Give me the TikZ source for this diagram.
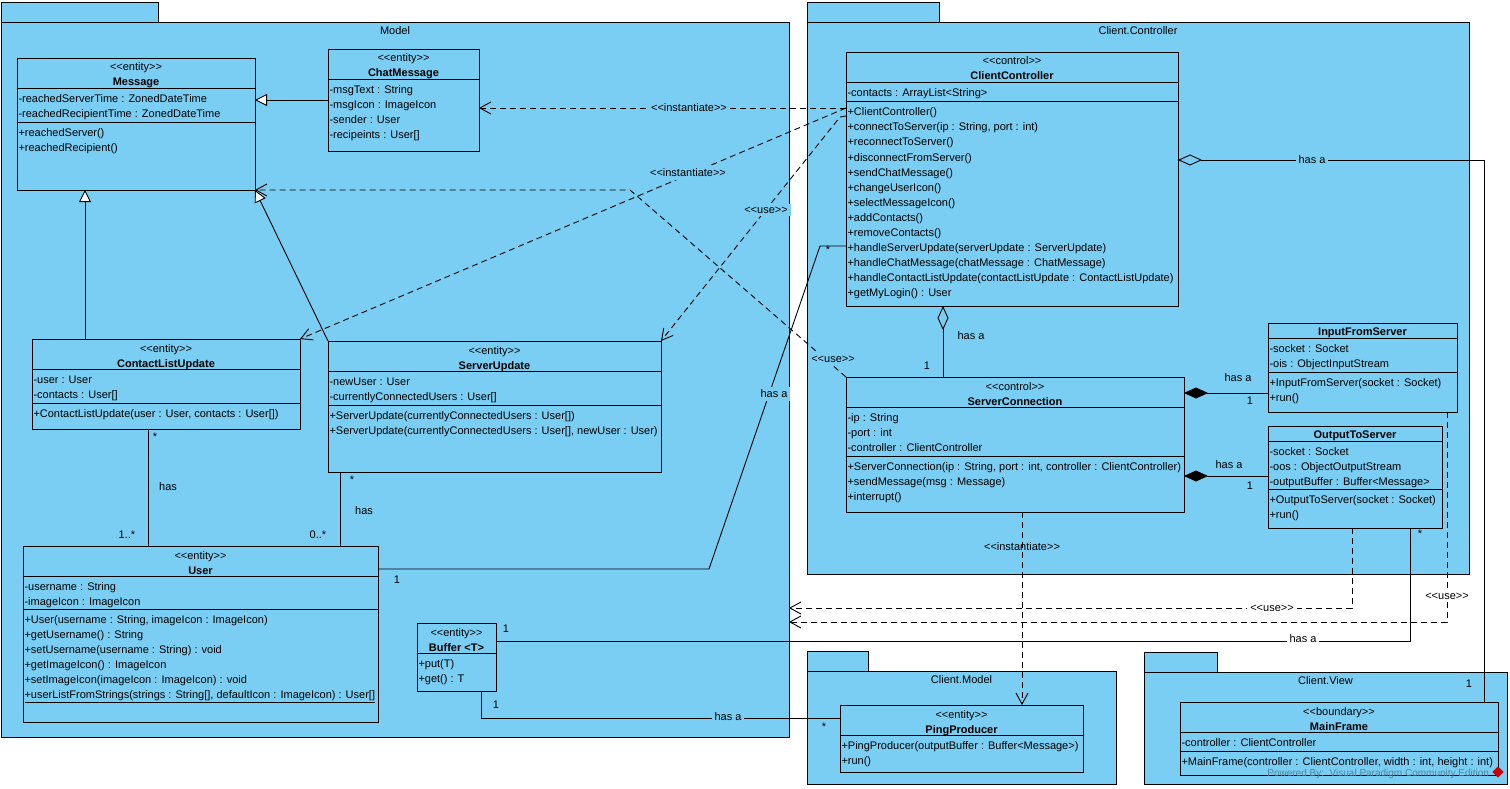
\documentclass[tikz,border=0pt]{standalone}
\usepackage{fontspec}
\newfontfamily\umlface{Liberation Sans}
\usetikzlibrary{arrows.meta,calc}
\definecolor{umlblue}{RGB}{122,206,243}
\newcommand\umlfont{\umlface\fontsize{11}{15}\selectfont}
% class box: name, x, y (top), width, height
\newcommand\umlbox[5]{\node[box, minimum width=#4pt, minimum height=#5pt, anchor=north west] (#1) at (#2,#3) {};}
% stereotype + bold class name
\newcommand\umlhead[3]{%
  \node[hdr] (#1-st) at ($(#1.north)+(0,13)$) {#2};
  \node[hdr, font=\umlfont\bfseries] (#1-nm) at ($(#1.north)+(0,28)$) {#3};}
% bold class name only
\newcommand\umltitle[2]{\node[hdr, font=\umlfont\bfseries] (#1-nm) at ($(#1.north)+(0,12)$) {#2};}
% compartment divider at a given offset below the top
\newcommand\umlsep[2]{\draw[ln] ($(#1.north west)+(0,#2)$) -- ($(#1.north east)+(0,#2)$);}
% member rows: box, name prefix, first baseline offset, list
\newcommand\umlrows[4]{\foreach \rowtext [count=\rowno from 0] in {#4}{%
  \node[mem] (#2\rowno) at ($(#1.north west)+(1.5,{#3+15*\rowno})$) {\rowtext};}}
\begin{document}
\begin{tikzpicture}[x=1pt,y=-1pt,
  every node/.style={inner sep=0pt, outer sep=0pt, font=\umlfont},
  box/.style={draw, fill=umlblue, line width=0.9pt},
  ln/.style={line width=0.9pt},
  dep/.style={ln, dash pattern=on 6pt off 4pt, -{Straight Barb[length=11pt,width=12pt]}},
  gen/.style={ln, -{Triangle[length=12pt,width=12pt,fill=white]}},
  agg/.style={ln, {Diamond[length=24pt,width=11pt,fill=umlblue]}-},
  comp/.style={ln, {Diamond[length=24pt,width=11pt]}-},
  mem/.style={anchor=base west},
  hdr/.style={anchor=base},
  lbl/.style={fill=umlblue, inner sep=3pt},
  lblw/.style={fill=white, inner sep=3pt}]
\useasboundingbox (0,0) rectangle (1510,789);
\fill[white] (0,0) rectangle (1510,789);

% ---------------- packages ----------------
\node[box, minimum width=788pt, minimum height=715pt, anchor=north west] (Model) at (1,22) {};
\node[box, minimum width=157pt, minimum height=20pt, anchor=south west] (Model-tab) at (Model.north west) {};
\node[hdr] (Model-lbl) at ($(Model.north)+(0,13)$) {Model};

\node[box, minimum width=662pt, minimum height=552pt, anchor=north west] (CCtrl) at (807,22) {};
\node[box, minimum width=132pt, minimum height=20pt, anchor=south west] (CCtrl-tab) at (CCtrl.north west) {};
\node[hdr] (CCtrl-lbl) at ($(CCtrl.north)+(0,13)$) {Client.Controller};

\node[box, minimum width=309pt, minimum height=113pt, anchor=north west] (CModel) at (807,671) {};
\node[box, minimum width=61pt, minimum height=20pt, anchor=south west] (CModel-tab) at (CModel.north west) {};
\node[hdr] (CModel-lbl) at ($(CModel.north)+(0,12)$) {Client.Model};

\node[box, minimum width=363pt, minimum height=112pt, anchor=north west] (CView) at (1144,672) {};
\node[box, minimum width=73pt, minimum height=20pt, anchor=south west] (CView-tab) at (CView.north west) {};
\node[hdr] (CView-lbl) at ($(CView.north)+(0,12)$) {Client.View};

% ---------------- classes: Model ----------------
\umlbox{Message}{17}{58}{238}{132}
\umlhead{Message}{<<entity>>}{Message}
\umlsep{Message}{30}\umlsep{Message}{64}
\umlrows{Message}{Message-a}{44.5}{-reachedServerTime : ZonedDateTime,-reachedRecipientTime : ZonedDateTime}
\umlrows{Message}{Message-o}{78.5}{+reachedServer(),+reachedRecipient()}

\umlbox{ChatMessage}{328}{49}{151}{102}
\umlhead{ChatMessage}{<<entity>>}{ChatMessage}
\umlsep{ChatMessage}{30}
\umlrows{ChatMessage}{ChatMessage-a}{44.5}{-msgText : String,-msgIcon : ImageIcon,-sender : User,-recipeints : User[]}

\umlbox{ContactListUpdate}{32}{339}{268}{90}
\umlhead{ContactListUpdate}{<<entity>>}{ContactListUpdate}
\umlsep{ContactListUpdate}{30}\umlsep{ContactListUpdate}{64}
\umlrows{ContactListUpdate}{CLU-a}{44.5}{-user : User,-contacts : User[]}
\umlrows{ContactListUpdate}{CLU-o}{78.5}{{+ContactListUpdate(user : User, contacts : User[])}}

\umlbox{ServerUpdate}{328}{341}{333}{131}
\umlhead{ServerUpdate}{<<entity>>}{ServerUpdate}
\umlsep{ServerUpdate}{30}\umlsep{ServerUpdate}{64}
\umlrows{ServerUpdate}{SU-a}{44.5}{-newUser : User,-currentlyConnectedUsers : User[]}
\umlrows{ServerUpdate}{SU-o}{78.5}{+ServerUpdate(currentlyConnectedUsers : User[]),{+ServerUpdate(currentlyConnectedUsers : User[], newUser : User)}}

\umlbox{User}{23}{546}{355}{176}
\umlhead{User}{<<entity>>}{User}
\umlsep{User}{30}\umlsep{User}{63}
\umlrows{User}{User-a}{44.5}{-username : String,-imageIcon : ImageIcon}
\umlrows{User}{User-o}{77.5}{{+User(username : String, imageIcon : ImageIcon)},+getUsername() : String,+setUsername(username : String) : void,+getImageIcon() : ImageIcon,+setImageIcon(imageIcon : ImageIcon) : void,{\underline{+userListFromStrings(strings : String[], defaultIcon : ImageIcon) : User[]}}}

\umlbox{Buffer}{417}{623}{79}{68}
\umlhead{Buffer}{<<entity>>}{Buffer <T>}
\umlsep{Buffer}{30}
\umlrows{Buffer}{Buffer-o}{44.5}{+put(T),+get() : T}

% ---------------- classes: Client.Controller ----------------
\umlbox{ClientController}{846}{52}{332}{254}
\umlhead{ClientController}{<<control>>}{ClientController}
\umlsep{ClientController}{30}\umlsep{ClientController}{49.5}
\umlrows{ClientController}{CC-a}{44.5}{-contacts : ArrayList<String>}
\umlrows{ClientController}{CC-o}{64}{+ClientController(),{+connectToServer(ip : String, port : int)},+reconnectToServer(),+disconnectFromServer(),+sendChatMessage(),+changeUserIcon(),+selectMessageIcon(),+addContacts(),+removeContacts(),+handleServerUpdate(serverUpdate : ServerUpdate),+handleChatMessage(chatMessage : ChatMessage),+handleContactListUpdate(contactListUpdate : ContactListUpdate),+getMyLogin() : User}

\umlbox{ServerConnection}{846}{377}{338}{135}
\umlhead{ServerConnection}{<<control>>}{ServerConnection}
\umlsep{ServerConnection}{30}\umlsep{ServerConnection}{79}
\umlrows{ServerConnection}{SC-a}{44.5}{-ip : String,-port : int,-controller : ClientController}
\umlrows{ServerConnection}{SC-o}{93}{{+ServerConnection(ip : String, port : int, controller : ClientController)},+sendMessage(msg : Message),+interrupt()}

\umlbox{InputFromServer}{1268}{323}{189}{89}
\umltitle{InputFromServer}{InputFromServer}
\umlsep{InputFromServer}{15.5}\umlsep{InputFromServer}{49.5}
\umlrows{InputFromServer}{IFS-a}{29.5}{-socket : Socket,-ois : ObjectInputStream}
\umlrows{InputFromServer}{IFS-o}{63.5}{+InputFromServer(socket : Socket),+run()}

\umlbox{OutputToServer}{1268}{426}{174}{102}
\umltitle{OutputToServer}{OutputToServer}
\umlsep{OutputToServer}{15}\umlsep{OutputToServer}{63}
\umlrows{OutputToServer}{OTS-a}{29}{-socket : Socket,-oos : ObjectOutputStream,-outputBuffer : Buffer<Message>}
\umlrows{OutputToServer}{OTS-o}{77.5}{+OutputToServer(socket : Socket),+run()}

% ---------------- classes: Client.Model / Client.View ----------------
\umlbox{PingProducer}{840}{705}{243}{67}
\umlhead{PingProducer}{<<entity>>}{PingProducer}
\umlsep{PingProducer}{30}
\umlrows{PingProducer}{PP-o}{44.5}{+PingProducer(outputBuffer : Buffer<Message>),+run()}

\umlbox{MainFrame}{1180}{702}{318}{73}
\umlhead{MainFrame}{<<boundary>>}{MainFrame}
\umlsep{MainFrame}{30.5}\umlsep{MainFrame}{49.5}
\umlrows{MainFrame}{MF-a}{44.5}{-controller : ClientController}
\umlrows{MainFrame}{MF-o}{63.5}{{+MainFrame(controller : ClientController, width : int, height : int)}}

% ---------------- generalizations ----------------
\draw[gen] (ChatMessage.west) -- (Message.east |- ChatMessage.west);
\draw[gen] ($(ContactListUpdate.north west)+(53,0)$) -- ($(Message.south west)+(68,0)$);
\draw[gen] (ServerUpdate.north west) -- (Message.south east);

% ---------------- dependencies ----------------
\coordinate (useBend) at ($(Message.south east)+(375,0)$);
\draw[dep] ($(ClientController.north west)+(0,56)$) -- ($(ChatMessage.east)+(0,8)$);
\draw[dep] ($(ClientController.north west)+(0,56)$) -- (ContactListUpdate.north east);
\draw[dep] ($(ClientController.north west)+(0,64)$) -- ++(-6,1) -- (ServerUpdate.north east);
\draw[dep] (ServerConnection.north west) -- (useBend) -- (Message.south east);
\draw[dep] ($(OutputToServer.south west)+(84,0)$) |- ($(Model.south east)+(0,-129)$);
\draw[dep] ($(InputFromServer.south east)+(-10,0)$) |- ($(Model.south east)+(0,-115)$);
\draw[dep] ($(ServerConnection.south west)+(176,0)$) -- ($(PingProducer.north west)+(182,0)$);

% ---------------- associations ----------------
\coordinate (userBendA) at (709,569);
\coordinate (userBendB) at (820,246);
\draw[agg] ($(ClientController.north east)+(0,108)$) -| ($(MainFrame.north east)+(-14,0)$);
\draw[agg] ($(ClientController.south west)+(97,0)$) -- ($(ServerConnection.north west)+(97,0)$);
\draw[comp] ($(ServerConnection.north east)+(0,16)$) -- ($(InputFromServer.north west)+(0,70)$);
\draw[comp] ($(ServerConnection.north east)+(0,99)$) -- ($(OutputToServer.north west)+(0,50)$);
\draw[ln] ($(ContactListUpdate.south west)+(116,0)$) -- ($(User.north west)+(125,0)$);
\draw[ln] ($(ServerUpdate.south west)+(12,0)$) -- ($(User.north west)+(317,0)$);
\draw[ln] ($(User.north east)+(0,23)$) -- (userBendA) -- (userBendB) -- ($(ClientController.north west)+(0,194)$);
\draw[ln] ($(Buffer.north east)+(0,18)$) -| ($(OutputToServer.south west)+(142,0)$);
\draw[ln] ($(Buffer.south west)+(64,0)$) |- ($(PingProducer.north west)+(0,13)$);

% ---------------- connector labels ----------------
\node[lbl] (lInst1) at (689,108) {<<instantiate>>};
\node[lbl] (lInst2) at (688,173) {<<instantiate>>};
\node (lInst3) at (1022,547) {<<instantiate>>};
\node[lbl] (lUse1) at (766,210) {<<use>>};
\node[lbl] (lUse2) at (833,359) {<<use>>};
\node[lblw] (lUse3) at (1272,608) {<<use>>};
\node[lblw] (lUse4) at (1447,596) {<<use>>};
\node[lbl] (lHas1) at (1312,160) {has a};
\node (lHas2) at (971,336) {has a};
\node (lHas3) at (1238,378) {has a};
\node (lHas4) at (1229,465) {has a};
\node (lHas5) at (168,487) {has};
\node (lHas6) at (364,511) {has};
\node[lbl] (lHas7) at (774,394) {has a};
\node[lblw] (lHas8) at (1303,639) {has a};
\node[lbl] (lHas9) at (728,717) {has a};

% ---------------- multiplicities ----------------
\node (m1) at (155,437) {*};
\node (m2) at (127,535) {1..*};
\node (m3) at (352,480) {*};
\node (m4) at (318,535) {0..*};
\node (m5) at (397,580) {1};
\node (m6) at (828,250) {*};
\node (m7) at (927,366) {1};
\node (m8) at (1250,401) {1};
\node (m9) at (1250,486) {1};
\node (m10) at (1469,684) {1};
\node (m11) at (506,629) {1};
\node (m12) at (496,705) {1};
\node (m13) at (1420,534) {*};
\node (m14) at (824,727) {*};

% ---------------- editor watermark ----------------
\node[anchor=base east, font=\umlface\fontsize{10}{12}\selectfont, text=black!35!umlblue] (wm) at (1489,776) {Powered By:\ \ Visual Paradigm Community Edition};
\node[fill=red!80!black, rotate=45, minimum size=8pt] (wmIcon) at (1498,772) {};
\end{tikzpicture}
\end{document}
